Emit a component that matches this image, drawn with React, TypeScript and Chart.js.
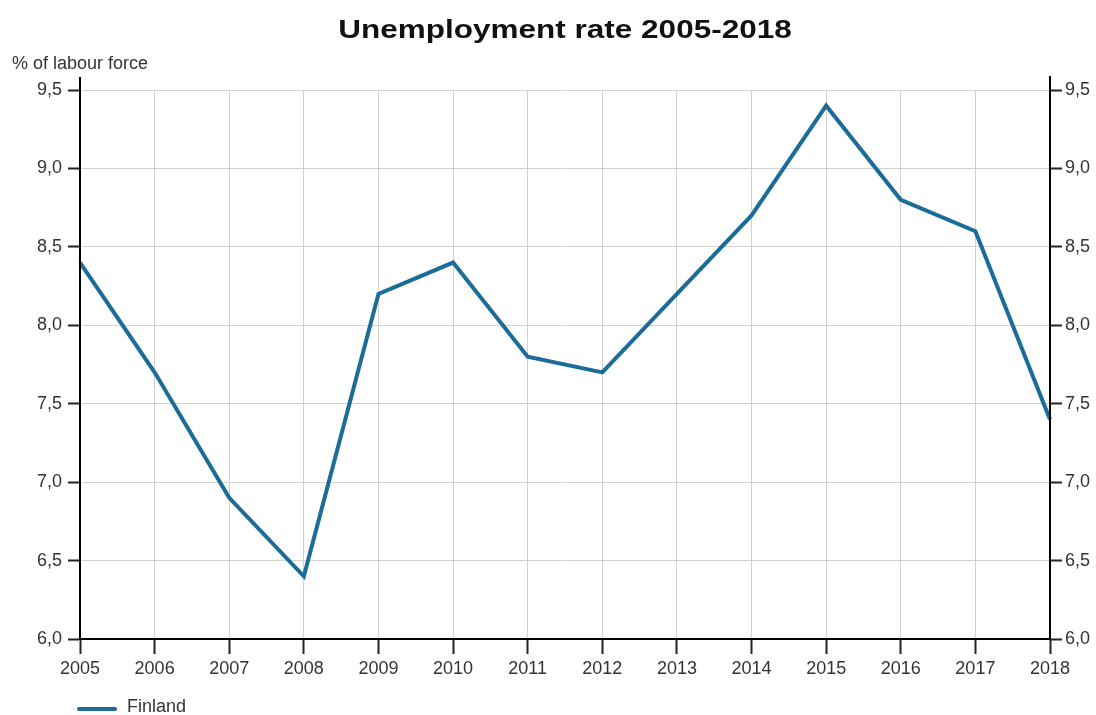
import { useEffect, useRef } from "react";
import { Chart, registerables } from "chart.js";

Chart.register(...registerables);

const years = ["2005", "2006", "2007", "2008", "2009", "2010", "2011", "2012", "2013", "2014", "2015", "2016", "2017", "2018"];
const finland = [8.4, 7.7, 6.9, 6.4, 8.2, 8.4, 7.8, 7.7, 8.2, 8.7, 9.4, 8.8, 8.6, 7.4];
const chartTitle = "Unemployment rate 2005-2018";
const yAxisLabel = "% of labour force";
const seriesName = "Finland";
const yMin = 6.0;
const yMax = 9.5;
const yStep = 0.5;

const LINE_COLOR = "#1c6c99";
const TEXT_COLOR = "#333333";
const FONT = '"Liberation Sans", Arial, sans-serif';

const fmt = (v: number) => v.toFixed(1).replace(".", ",");

const extrasPlugin = {
  id: "extras",
  afterDraw(chart: any) {
    const ctx = chart.ctx;
    const area = chart.chartArea;
    ctx.save();
    // extended axis lines
    ctx.strokeStyle = "#000";
    ctx.lineWidth = 2;
    ctx.beginPath();
    ctx.moveTo(area.left, area.top - 13);
    ctx.lineTo(area.left, area.bottom);
    ctx.moveTo(area.right, area.top - 14);
    ctx.lineTo(area.right, area.bottom);
    ctx.stroke();
    // title (slightly widened to match the reference lettering)
    ctx.save();
    ctx.fillStyle = "#111";
    ctx.font = "bold 25px " + FONT;
    ctx.textAlign = "center";
    ctx.textBaseline = "alphabetic";
    ctx.translate((area.left + area.right) / 2, 38);
    ctx.scale(1.26, 1);
    ctx.fillText(chartTitle, 0, 0);
    ctx.restore();
    // y axis label
    ctx.fillStyle = TEXT_COLOR;
    ctx.font = "18px " + FONT;
    ctx.textAlign = "left";
    ctx.textBaseline = "middle";
    ctx.fillText(yAxisLabel, 12, 64);
    // legend
    const ds = chart.data.datasets[0];
    ctx.strokeStyle = ds.borderColor;
    ctx.lineWidth = 4;
    ctx.lineCap = "round";
    ctx.beginPath();
    ctx.moveTo(79, 709);
    ctx.lineTo(115, 709);
    ctx.stroke();
    ctx.fillStyle = TEXT_COLOR;
    ctx.fillText(ds.label, 127, 707);
    ctx.restore();
  },
};

export default function App() {
  const ref = useRef<HTMLCanvasElement | null>(null);
  useEffect(() => {
    if (!ref.current) return;
    const chart = new Chart(ref.current, {
      type: "line",
      data: {
        labels: years,
        datasets: [
          {
            label: seriesName,
            data: finland,
            borderColor: LINE_COLOR,
            backgroundColor: LINE_COLOR,
            borderWidth: 4,
            pointRadius: 0,
            tension: 0,
            fill: false,
          },
          {
            label: "_right",
            data: finland,
            yAxisID: "y2",
            borderColor: "rgba(0,0,0,0)",
            pointRadius: 0,
            borderWidth: 0,
          },
        ],
      },
      options: {
        responsive: false,
        animation: false,
        layout: { padding: { top: 90, left: 0, right: 0, bottom: 0 } },
        plugins: {
          legend: { display: false },
          title: { display: false },
          tooltip: { enabled: false },
        },
        scales: {
          x: {
            offset: false,
            grid: { color: "#d2d2d2", lineWidth: 1, tickColor: "#222", tickLength: 15, tickWidth: 2 },
            border: { color: "#000", width: 2 },
            ticks: { color: TEXT_COLOR, font: { family: FONT, size: 18 }, padding: 4, maxRotation: 0, autoSkip: false },
            afterFit: (s: any) => { s.height = 76; },
          },
          y: {
            position: "left",
            min: yMin,
            max: yMax,
            grid: { color: "#d2d2d2", lineWidth: 1, tickColor: "#222", tickLength: 12, tickWidth: 2 },
            border: { color: "#000", width: 2 },
            ticks: { stepSize: yStep, color: TEXT_COLOR, font: { family: FONT, size: 18 }, padding: 6, callback: (v: any) => fmt(Number(v)) },
            afterFit: (s: any) => { s.width = 80; },
          },
          y2: {
            position: "right",
            min: yMin,
            max: yMax,
            grid: { drawOnChartArea: false, tickColor: "#222", tickLength: 12, tickWidth: 2 },
            border: { color: "#000", width: 2 },
            ticks: { stepSize: yStep, color: TEXT_COLOR, font: { family: FONT, size: 18 }, padding: 3, callback: (v: any) => fmt(Number(v)) },
            afterFit: (s: any) => { s.width = 46; },
          },
        },
      },
      plugins: [extrasPlugin],
    });
    return () => chart.destroy();
  }, []);
  return (
    <div style={{ position: "absolute", left: 0, top: 0, width: 1096, height: 715, background: "#fff" }}>
      <canvas ref={ref} width={1096} height={715} />
    </div>
  );
}
